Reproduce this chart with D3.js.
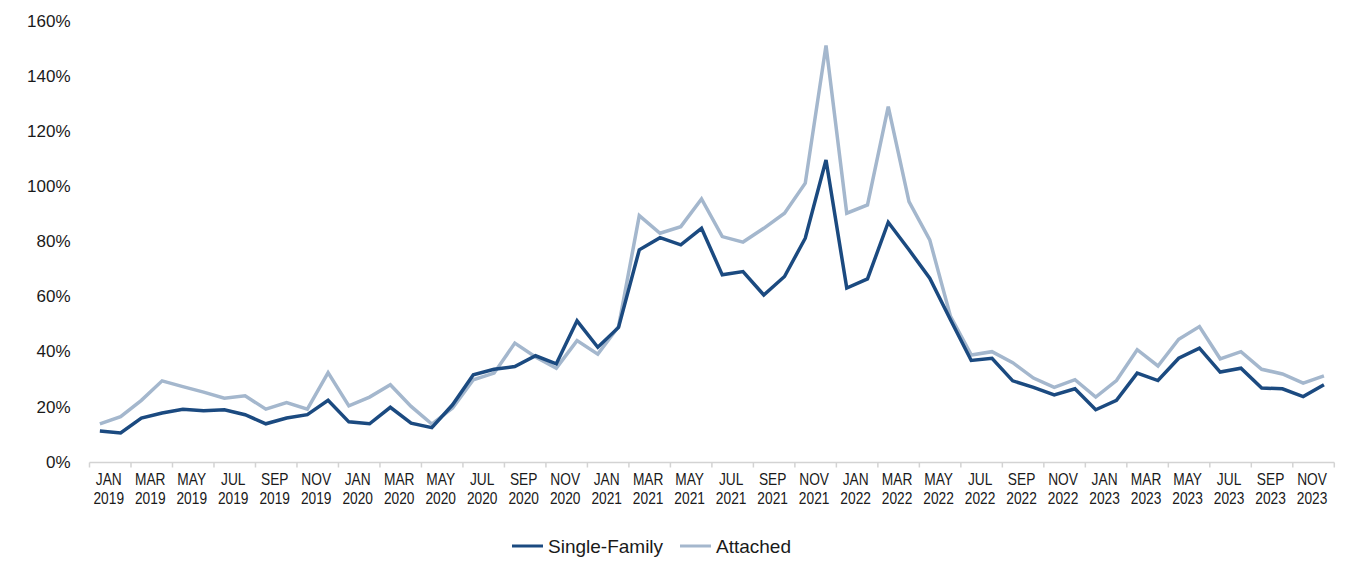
<!DOCTYPE html>
<html><head><meta charset="utf-8">
<script src="https://cdn.jsdelivr.net/npm/d3@7"></script>
<style>
html,body{margin:0;padding:0;background:#fff;}
svg{display:block;}
</style></head>
<body>
<svg id="chart" width="1353" height="561"></svg>
<script>
const months = ["JAN","FEB","MAR","APR","MAY","JUN","JUL","AUG","SEP","OCT","NOV","DEC"];
const years = [2019,2020,2021,2022,2023];
const categories = years.flatMap(y => months.map(m => m + " " + y));

const singleFamily = [
  11.1,10.4,15.8,17.6,19.0,18.4,18.8,17.0,13.7,15.8,17.0,22.2,
  14.4,13.7,19.7,13.9,12.3,20.6,31.5,33.5,34.5,38.4,35.5,51.1,
  41.5,48.7,76.9,81.3,78.7,84.7,67.8,69.0,60.5,67.2,81.1,109.5,
  63.0,66.3,86.9,76.9,66.6,51.5,36.7,37.5,29.3,26.9,24.2,26.4,
  18.8,22.2,32.1,29.4,37.5,41.2,32.5,33.9,26.7,26.4,23.6,27.9
];
const attached = [
  13.7,16.3,22.2,29.3,27.2,25.2,23.0,23.9,19.0,21.4,19.0,32.3,
  20.2,23.4,27.9,20.0,13.6,19.4,29.7,32.1,43.0,38.0,33.9,43.9,
  39.0,49.0,89.3,82.9,85.3,95.4,81.7,79.7,84.7,90.2,101.1,151.1,
  90.2,93.2,128.9,94.4,80.5,52.7,38.7,39.9,35.9,30.3,26.9,29.7,
  23.4,29.4,40.6,34.7,44.4,49.0,37.3,39.9,33.5,31.8,28.5,31.1
];
const yTicks = [0,20,40,60,80,100,120,140,160];
const seriesNames = ["Single-Family","Attached"];
const seriesColors = ["#1b4a80","#a4b7cd"];

(function(){
const svg = d3.select("#chart");
const mL = 89.5, mR = 1334.3, mT = 21, mB = 462;

const x = d3.scaleBand().domain(categories).range([mL, mR]).padding(0);
const y = d3.scaleLinear().domain([0,160]).range([mB - 0.5, mT]);

svg.append("g").selectAll("text").data(yTicks).join("text")
  .attr("x", 70.5).attr("y", d => y(d)).attr("dy", "0.36em")
  .attr("text-anchor", "end")
  .style("font-family", "'Liberation Sans', Arial, sans-serif")
  .style("font-size", "17px").style("fill", "#1a1a1a")
  .text(d => d + "%");

const axisG = svg.append("g");
axisG.append("line").attr("x1", mL).attr("x2", mR).attr("y1", mB + 0.5).attr("y2", mB + 0.5)
  .attr("stroke", "#d3d3d3").attr("stroke-width", 1.5);
const tickCats = categories.filter((d,i) => i % 2 === 0);
axisG.selectAll("line.tick").data(tickCats.concat([null])).join("line").attr("class","tick")
  .attr("x1", d => d === null ? mR : x(d)).attr("x2", d => d === null ? mR : x(d))
  .attr("y1", mB + 0.5).attr("y2", mB + 5.5)
  .attr("stroke", "#d3d3d3").attr("stroke-width", 1.5);

const lblG = axisG.selectAll("g.lbl").data(tickCats).join("g").attr("class","lbl")
  .attr("transform", d => `translate(${x(d) + x.bandwidth() - 1.5},0) scale(0.86,1)`);
const lbl = lblG.append("text")
  .attr("text-anchor", "middle")
  .style("font-family", "'Liberation Sans', Arial, sans-serif")
  .style("font-size", "16px").style("fill", "#1a1a1a");
lbl.append("tspan").attr("x", 0).attr("y", 485).text(d => d.split(" ")[0]);
lbl.append("tspan").attr("x", 0).attr("y", 504).text(d => d.split(" ")[1]);

const line = d3.line().x((d,i) => x(categories[i]) + x.bandwidth()/2).y(d => y(d));
[attached, singleFamily].forEach((s, k) => {
  svg.append("path").datum(s)
    .attr("fill", "none")
    .attr("stroke", k === 0 ? seriesColors[1] : seriesColors[0])
    .attr("stroke-width", 3.5)
    .attr("stroke-linejoin", "miter")
    .attr("d", line);
});

const legendItems = [{name: seriesNames[0], color: seriesColors[0], x: 512}, {name: seriesNames[1], color: seriesColors[1], x: 680}];
const lg = svg.append("g").selectAll("g").data(legendItems).join("g");
lg.append("line").attr("x1", d => d.x).attr("x2", d => d.x + 31).attr("y1", 546).attr("y2", 546)
  .attr("stroke", d => d.color).attr("stroke-width", 3);
lg.append("text").attr("x", d => d.x + 36).attr("y", 546).attr("dy", "0.36em")
  .style("font-family", "'Liberation Sans', Arial, sans-serif")
  .style("font-size", "19px").style("fill", "#1a1a1a")
  .text(d => d.name);
})();
</script>
</body></html>
